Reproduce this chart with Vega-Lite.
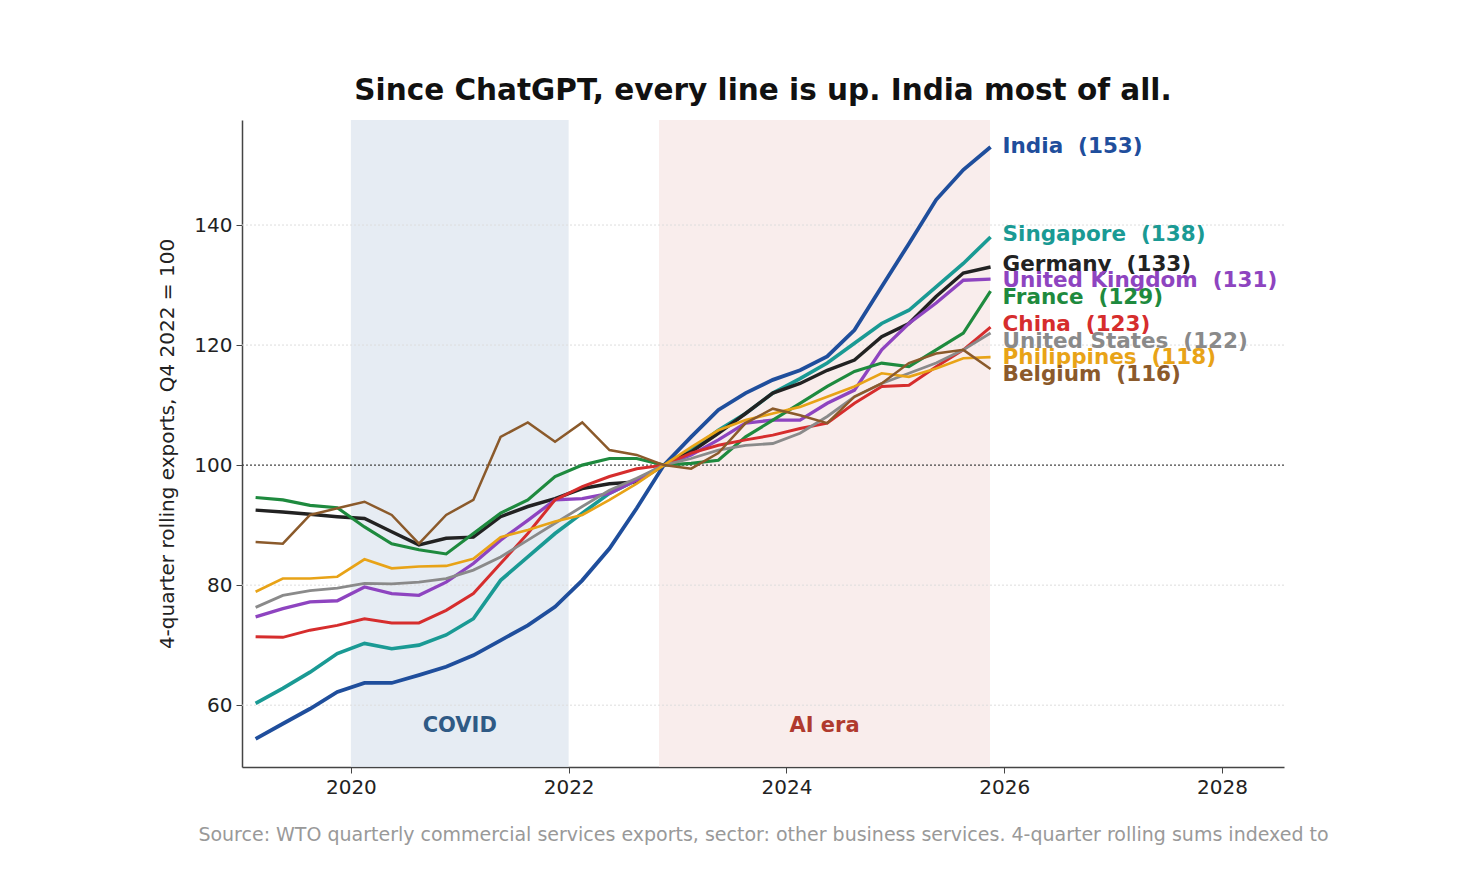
{
  "$schema": "https://vega.github.io/schema/vega-lite/v6.json",
  "autosize": "none",
  "padding": {"left": 242, "top": 120, "right": 190, "bottom": 121},
  "width": 1042,
  "height": 647,
  "background": "white",
  "config": {
    "font": "DejaVu Sans",
    "view": {"stroke": null},
    "axis": {"labelFont": "DejaVu Sans", "titleFont": "DejaVu Sans", "labelFontSize": 20, "labelColor": "#222", "domainColor": "#444", "tickColor": "#444", "domainWidth": 1.5}
  },
  "title": {"text": "Since ChatGPT, every line is up. India most of all.", "fontSize": 29.5, "fontWeight": "bold", "font": "DejaVu Sans", "color": "#111", "offset": 14, "anchor": "middle"},
  "datasets": {
    "series": [
      {"t": 2019.125, "India": 54.4, "Singapore": 60.3, "Germany": 92.5, "United Kingdom": 74.7, "France": 94.6, "China": 71.4, "United States": 76.3, "Philippines": 78.9, "Belgium": 87.2},
      {"t": 2019.375, "India": 56.9, "Singapore": 62.8, "Germany": 92.2, "United Kingdom": 76.1, "France": 94.2, "China": 71.3, "United States": 78.3, "Philippines": 81.1, "Belgium": 86.9},
      {"t": 2019.625, "India": 59.4, "Singapore": 65.5, "Germany": 91.8, "United Kingdom": 77.2, "France": 93.3, "China": 72.5, "United States": 79.1, "Philippines": 81.1, "Belgium": 91.7},
      {"t": 2019.875, "India": 62.2, "Singapore": 68.6, "Germany": 91.4, "United Kingdom": 77.4, "France": 92.9, "China": 73.3, "United States": 79.5, "Philippines": 81.4, "Belgium": 92.8},
      {"t": 2020.125, "India": 63.7, "Singapore": 70.3, "Germany": 91.1, "United Kingdom": 79.7, "France": 89.7, "China": 74.4, "United States": 80.3, "Philippines": 84.3, "Belgium": 93.9},
      {"t": 2020.375, "India": 63.7, "Singapore": 69.4, "Germany": 88.9, "United Kingdom": 78.6, "France": 86.9, "China": 73.7, "United States": 80.2, "Philippines": 82.8, "Belgium": 91.7},
      {"t": 2020.625, "India": 65.0, "Singapore": 70.0, "Germany": 86.7, "United Kingdom": 78.3, "France": 85.9, "China": 73.7, "United States": 80.5, "Philippines": 83.1, "Belgium": 86.9},
      {"t": 2020.875, "India": 66.4, "Singapore": 71.7, "Germany": 87.8, "United Kingdom": 80.5, "France": 85.2, "China": 75.8, "United States": 81.1, "Philippines": 83.2, "Belgium": 91.7},
      {"t": 2021.125, "India": 68.3, "Singapore": 74.4, "Germany": 88.0, "United Kingdom": 83.6, "France": 88.6, "China": 78.6, "United States": 82.5, "Philippines": 84.4, "Belgium": 94.2},
      {"t": 2021.375, "India": 70.8, "Singapore": 80.8, "Germany": 91.4, "United Kingdom": 87.5, "France": 92.0, "China": 83.6, "United States": 84.7, "Philippines": 88.0, "Belgium": 104.7},
      {"t": 2021.625, "India": 73.3, "Singapore": 84.7, "Germany": 93.1, "United Kingdom": 90.8, "France": 94.2, "China": 88.6, "United States": 87.5, "Philippines": 89.2, "Belgium": 107.1},
      {"t": 2021.875, "India": 76.4, "Singapore": 88.6, "Germany": 94.4, "United Kingdom": 94.2, "France": 98.1, "China": 94.2, "United States": 90.3, "Philippines": 90.6, "Belgium": 103.9},
      {"t": 2022.125, "India": 80.8, "Singapore": 92.0, "Germany": 96.1, "United Kingdom": 94.4, "France": 100.0, "China": 96.4, "United States": 93.1, "Philippines": 91.7, "Belgium": 107.1},
      {"t": 2022.375, "India": 86.1, "Singapore": 95.3, "Germany": 96.9, "United Kingdom": 95.3, "France": 101.1, "China": 98.1, "United States": 95.8, "Philippines": 94.2, "Belgium": 102.5},
      {"t": 2022.625, "India": 92.8, "Singapore": 97.5, "Germany": 97.2, "United Kingdom": 97.5, "France": 101.1, "China": 99.4, "United States": 97.8, "Philippines": 96.9, "Belgium": 101.7},
      {"t": 2022.875, "India": 100, "Singapore": 100, "Germany": 100, "United Kingdom": 100, "France": 100, "China": 100, "United States": 100, "Philippines": 100, "Belgium": 100},
      {"t": 2023.125, "India": 104.7, "Singapore": 102.5, "Germany": 102.2, "United Kingdom": 101.7, "France": 100.3, "China": 102.0, "United States": 101.1, "Philippines": 103.0, "Belgium": 99.4},
      {"t": 2023.375, "India": 109.2, "Singapore": 105.8, "Germany": 105.3, "United Kingdom": 104.2, "France": 100.8, "China": 103.3, "United States": 102.5, "Philippines": 105.8, "Belgium": 102.0},
      {"t": 2023.625, "India": 112.0, "Singapore": 108.6, "Germany": 108.6, "United Kingdom": 107.0, "France": 104.7, "China": 104.2, "United States": 103.3, "Philippines": 107.5, "Belgium": 107.0},
      {"t": 2023.875, "India": 114.2, "Singapore": 112.0, "Germany": 112.0, "United Kingdom": 107.5, "France": 107.5, "China": 105.0, "United States": 103.6, "Philippines": 108.6, "Belgium": 109.4},
      {"t": 2024.125, "India": 115.8, "Singapore": 114.4, "Germany": 113.6, "United Kingdom": 107.5, "France": 110.3, "China": 106.1, "United States": 105.3, "Philippines": 109.7, "Belgium": 108.3},
      {"t": 2024.375, "India": 118.1, "Singapore": 117.0, "Germany": 115.8, "United Kingdom": 110.3, "France": 113.1, "China": 107.0, "United States": 108.1, "Philippines": 111.4, "Belgium": 107.0},
      {"t": 2024.625, "India": 122.5, "Singapore": 120.3, "Germany": 117.5, "United Kingdom": 112.5, "France": 115.6, "China": 110.3, "United States": 111.4, "Philippines": 113.1, "Belgium": 111.4},
      {"t": 2024.875, "India": 129.7, "Singapore": 123.6, "Germany": 121.4, "United Kingdom": 119.2, "France": 117.0, "China": 113.1, "United States": 113.6, "Philippines": 115.3, "Belgium": 113.6},
      {"t": 2025.125, "India": 136.9, "Singapore": 125.8, "Germany": 123.6, "United Kingdom": 123.6, "France": 116.4, "China": 113.3, "United States": 115.3, "Philippines": 114.7, "Belgium": 117.0},
      {"t": 2025.375, "India": 144.2, "Singapore": 129.7, "Germany": 128.1, "United Kingdom": 127.0, "France": 119.2, "China": 116.4, "United States": 117.0, "Philippines": 116.1, "Belgium": 118.6},
      {"t": 2025.625, "India": 149.2, "Singapore": 133.6, "Germany": 132.0, "United Kingdom": 130.8, "France": 122.0, "China": 119.2, "United States": 119.2, "Philippines": 117.8, "Belgium": 119.2},
      {"t": 2025.875, "India": 153, "Singapore": 138, "Germany": 133, "United Kingdom": 131, "France": 129, "China": 123, "United States": 122, "Philippines": 118, "Belgium": 116}
    ],
    "labels": [
      {"c": "India", "lab": "India\u00a0\u00a0(153)", "y": 153},
      {"c": "Singapore", "lab": "Singapore\u00a0\u00a0(138)", "y": 138.3},
      {"c": "Germany", "lab": "Germany\u00a0\u00a0(133)", "y": 133.3},
      {"c": "United Kingdom", "lab": "United Kingdom\u00a0\u00a0(131)", "y": 130.7},
      {"c": "France", "lab": "France\u00a0\u00a0(129)", "y": 127.8},
      {"c": "China", "lab": "China\u00a0\u00a0(123)", "y": 123.3},
      {"c": "United States", "lab": "United States\u00a0\u00a0(122)", "y": 120.5},
      {"c": "Philippines", "lab": "Philippines\u00a0\u00a0(118)", "y": 117.8},
      {"c": "Belgium", "lab": "Belgium\u00a0\u00a0(116)", "y": 115}
    ],
    "bands": [
      {"x0": 2020, "x1": 2022, "name": "COVID", "mid": 2021, "fill": "#dbe4ee", "col": "#2f5a85"},
      {"x0": 2022.83, "x1": 2025.87, "name": "AI era", "mid": 2024.35, "fill": "#f6e6e4", "col": "#b03a2e"}
    ]
  },
  "layer": [
    {
      "data": {"name": "bands"},
      "mark": {"type": "rect", "opacity": 0.7},
      "encoding": {
        "x": {"field": "x0", "type": "quantitative", "scale": {"domain": [2019, 2028.57], "nice": false, "zero": false},
          "axis": {"values": [2020, 2022, 2024, 2026, 2028], "format": "d", "grid": false, "tickSize": 6, "labelPadding": 4, "titleFontSize": 19, "titleFontWeight": "normal", "titleColor": "#999", "titlePadding": 28},
          "title": "Source: WTO quarterly commercial services exports, sector: other business services. 4-quarter rolling sums indexed to"},
        "x2": {"field": "x1"},
        "y": {"value": 0},
        "y2": {"value": 647},
        "fill": {"field": "fill", "type": "nominal", "scale": null}
      }
    },
    {
      "data": {"name": "bands"},
      "mark": {"type": "text", "fontSize": 21, "fontWeight": "bold"},
      "encoding": {
        "x": {"field": "mid", "type": "quantitative"},
        "y": {"datum": 56.5, "type": "quantitative"},
        "text": {"field": "name"},
        "fill": {"field": "col", "type": "nominal", "scale": null}
      }
    },
    {
      "data": {"values": [{"g": 60}, {"g": 80}, {"g": 120}, {"g": 140}]},
      "mark": {"type": "rule", "color": "#dddddd", "strokeDash": [2, 2], "strokeWidth": 1},
      "encoding": {"y": {"field": "g", "type": "quantitative"}}
    },
    {
      "data": {"values": [{"g": 100}]},
      "mark": {"type": "rule", "color": "#444", "strokeDash": [2, 2], "strokeWidth": 1.2},
      "encoding": {"y": {"field": "g", "type": "quantitative"}}
    },
    {
      "data": {"name": "series"},
      "transform": [{"fold": ["India", "Singapore", "Germany", "United Kingdom", "France", "China", "United States", "Philippines", "Belgium"], "as": ["c", "v"]}],
      "mark": {"type": "line"},
      "encoding": {
        "x": {"field": "t", "type": "quantitative"},
        "y": {"field": "v", "type": "quantitative", "scale": {"domain": [49.7, 157.5], "nice": false, "zero": false},
          "axis": {"values": [60, 80, 100, 120, 140], "grid": false, "tickSize": 6, "labelPadding": 4, "titleFontSize": 20, "titleFontWeight": "normal", "titleColor": "#222", "titlePadding": 16},
          "title": "4-quarter rolling exports, Q4 2022 = 100"},
        "color": {"field": "c", "type": "nominal", "legend": null,
          "scale": {"domain": ["India", "Singapore", "Germany", "United Kingdom", "France", "China", "United States", "Philippines", "Belgium"],
            "range": ["#1f4e9c", "#1a9a94", "#222222", "#8e44c0", "#1e8a3e", "#d62d2d", "#8a8a8a", "#e8a317", "#8b5a2b"]}},
        "strokeWidth": {"field": "c", "type": "nominal", "legend": null,
          "scale": {"domain": ["India", "Singapore", "Germany", "United Kingdom", "France", "China", "United States", "Philippines", "Belgium"],
            "range": [3.8, 2.5, 2.5, 2.5, 2.5, 2.5, 2.5, 2.5, 2.5]}}
      }
    },
    {
      "data": {"name": "labels"},
      "mark": {"type": "text", "align": "left", "baseline": "middle", "dx": 12, "fontSize": 21.5, "fontWeight": "bold"},
      "encoding": {
        "x": {"datum": 2025.875, "type": "quantitative"},
        "y": {"field": "y", "type": "quantitative"},
        "text": {"field": "lab"},
        "color": {"field": "c", "type": "nominal", "legend": null}
      }
    }
  ]
}
